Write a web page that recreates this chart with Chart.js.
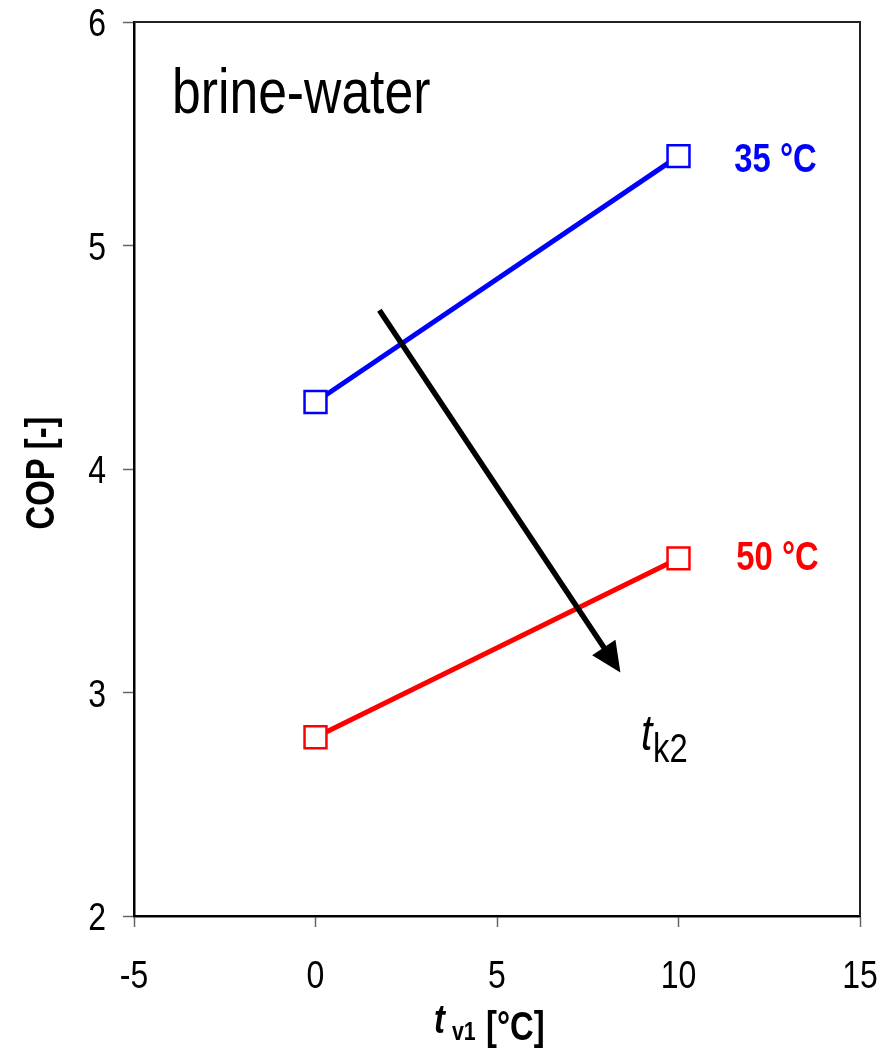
<!DOCTYPE html>
<html>
<head>
<meta charset="utf-8">
<script src="https://cdn.jsdelivr.net/npm/chart.js@4/dist/chart.umd.min.js"></script>
<style>
  html, body { margin: 0; padding: 0; background: #fff; }
  #wrap { width: 895px; height: 1048px; }
</style>
</head>
<body>
<div id="wrap"><canvas id="cop"></canvas></div>
<script>
// data
const tv1 = [0, 10];
const cop35 = [4.3, 5.4];
const cop50 = [2.8, 3.6];
const seriesNames = ['35 °C', '50 °C'];
const xRange = [-5, 15];
const yRange = [2, 6];
const panelTitle = 'brine-water';
const yAxisTitle = 'COP [-]';
const arrowFrom = [1.76, 4.71];
const arrowTo = [8.4, 3.09];

const FONT = "'Liberation Sans', Arial, sans-serif";
const NARROW = 0.82; // imita Arial Narrow

// escreve texto "estreitado" na horizontal
function narrowText(ctx, s, x, y, font, align, color) {
  ctx.save();
  ctx.font = font;
  ctx.fillStyle = color || '#000';
  ctx.textAlign = align || 'left';
  ctx.textBaseline = 'alphabetic';
  ctx.translate(x, y);
  ctx.scale(NARROW, 1);
  ctx.fillText(s, 0, 0);
  const w = ctx.measureText(s).width * NARROW;
  ctx.restore();
  return w;
}

// rotulos dos eixos, texto, seta e moldura
const extras = {
  id: 'extras',
  afterDraw(chart) {
    const { ctx, chartArea: a, scales: { x, y } } = chart;
    ctx.save();

    // moldura de cima e da direita
    ctx.strokeStyle = '#222';
    ctx.lineWidth = 2;
    ctx.beginPath();
    ctx.moveTo(a.left, a.top);
    ctx.lineTo(a.right, a.top);
    ctx.lineTo(a.right, a.bottom);
    ctx.stroke();

    // rotulos dos ticks
    const tickFont = '39px ' + FONT;
    y.ticks.forEach(t => {
      narrowText(ctx, String(t.value), 106, y.getPixelForValue(t.value) + 14, tickFont, 'right');
    });
    x.ticks.forEach(t => {
      narrowText(ctx, String(t.value), x.getPixelForValue(t.value), 988, tickFont, 'center');
    });

    // titulo do eixo y
    ctx.save();
    ctx.translate(54, (a.top + a.bottom) / 2 + 4);
    ctx.rotate(-Math.PI / 2);
    narrowText(ctx, yAxisTitle, 0, 0, 'bold 40px ' + FONT, 'center');
    ctx.restore();

    // titulo do eixo x: t v1 [°C]
    narrowText(ctx, 't', 434, 1033, 'bold italic 40px ' + FONT, 'left');
    narrowText(ctx, 'v1', 452, 1040, 'bold 26px ' + FONT, 'left');
    narrowText(ctx, '[°C]', 486, 1040, 'bold 40px ' + FONT, 'left');

    // seta tk2
    const x0 = x.getPixelForValue(arrowFrom[0]), y0 = y.getPixelForValue(arrowFrom[1]);
    const x1 = x.getPixelForValue(arrowTo[0]), y1 = y.getPixelForValue(arrowTo[1]);
    const ang = Math.atan2(y1 - y0, x1 - x0);
    const headLen = 30, headW = 14;
    const bx = x1 - headLen * Math.cos(ang), by = y1 - headLen * Math.sin(ang);
    ctx.strokeStyle = '#000';
    ctx.lineWidth = 5.5;
    ctx.beginPath();
    ctx.moveTo(x0, y0);
    ctx.lineTo(bx + 2 * Math.cos(ang), by + 2 * Math.sin(ang));
    ctx.stroke();
    ctx.fillStyle = '#000';
    ctx.beginPath();
    ctx.moveTo(x1, y1);
    ctx.lineTo(bx + headW * Math.sin(ang), by - headW * Math.cos(ang));
    ctx.lineTo(bx - headW * Math.sin(ang), by + headW * Math.cos(ang));
    ctx.closePath();
    ctx.fill();

    // t_k2
    narrowText(ctx, 't', 641, 750, 'italic 50px ' + FONT, 'left');
    narrowText(ctx, 'k2', 653, 762, '40px ' + FONT, 'left');

    // titulo do painel
    narrowText(ctx, panelTitle, 172, 113, '63px ' + FONT, 'left');

    // rotulos das series
    const lastX = x.getPixelForValue(tv1[tv1.length - 1]);
    narrowText(ctx, seriesNames[0], lastX + 97, y.getPixelForValue(cop35[1]) + 16, 'bold 40px ' + FONT, 'center', '#0000ff');
    narrowText(ctx, seriesNames[1], lastX + 99, y.getPixelForValue(cop50[1]) + 12, 'bold 40px ' + FONT, 'center', '#ff0000');

    ctx.restore();
  }
};

const pointStyleOpts = {
  pointStyle: 'rect',
  pointRadius: 15.5,
  pointHoverRadius: 15.5,
  pointBackgroundColor: '#fff',
  pointBorderWidth: 2.5,
  borderWidth: 5,
  showLine: true,
  fill: false,
  tension: 0
};

new Chart(document.getElementById('cop'), {
  type: 'scatter',
  data: {
    datasets: [
      { label: seriesNames[0], data: tv1.map((v, i) => ({ x: v, y: cop35[i] })), borderColor: '#0000ff', pointBorderColor: '#0000ff', ...pointStyleOpts },
      { label: seriesNames[1], data: tv1.map((v, i) => ({ x: v, y: cop50[i] })), borderColor: '#ff0000', pointBorderColor: '#ff0000', ...pointStyleOpts }
    ]
  },
  options: {
    responsive: true,
    maintainAspectRatio: false,
    animation: false,
    layout: { padding: { top: 22, right: 35, left: 0, bottom: 0 } },
    plugins: { legend: { display: false }, tooltip: { enabled: false } },
    scales: {
      x: {
        type: 'linear',
        min: xRange[0], max: xRange[1],
        afterFit: s => { s.height = 132; },
        ticks: { display: false, stepSize: 5 },
        grid: { drawOnChartArea: false, drawTicks: true, tickLength: 11, tickColor: '#666', tickWidth: 1.5 },
        border: { display: true, color: '#000', width: 2.5 },
        title: { display: false }
      },
      y: {
        type: 'linear',
        min: yRange[0], max: yRange[1],
        afterFit: s => { s.width = 134; },
        ticks: { display: false, stepSize: 1 },
        grid: { drawOnChartArea: false, drawTicks: true, tickLength: 11, tickColor: '#666', tickWidth: 1.5 },
        border: { display: true, color: '#000', width: 2.5 },
        title: { display: false }
      }
    }
  },
  plugins: [extras]
});
</script>
</body>
</html>
